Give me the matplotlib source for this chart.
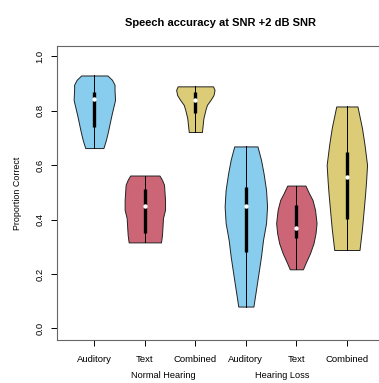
import matplotlib
matplotlib.use("Agg")

import matplotlib.pyplot as plt

plt.rcParams["font.family"] = ["Liberation Sans", "DejaVu Sans"]

# tick labels and groups
conditions = ["Auditory", "Text", "Combined", "Auditory", "Text", "Combined"]
groups = ["Normal Hearing", "Hearing Loss"]
colors = ["#88CCEE", "#CC6677", "#DDCC77", "#88CCEE", "#CC6677", "#DDCC77"]

# violin outlines: y levels and half widths
nh_aud_y = [0.663, 0.693, 0.724, 0.785, 0.840, 0.877, 0.896, 0.914, 0.930]
nh_aud_w = [0.18, 0.23, 0.27, 0.34, 0.41, 0.40, 0.40, 0.35, 0.26]
nh_text_y = [0.316, 0.344, 0.406, 0.436, 0.472, 0.528, 0.546, 0.562]
nh_text_w = [0.32, 0.34, 0.36, 0.40, 0.40, 0.38, 0.34, 0.29]
nh_comb_y = [0.722, 0.773, 0.804, 0.822, 0.840, 0.858, 0.877, 0.890]
nh_comb_w = [0.13, 0.16, 0.20, 0.23, 0.30, 0.36, 0.38, 0.35]
hl_aud_y = [0.080, 0.141, 0.202, 0.264, 0.325, 0.387, 0.448, 0.509, 0.571, 0.620, 0.669]
hl_aud_w = [0.15, 0.20, 0.25, 0.30, 0.34, 0.40, 0.42, 0.40, 0.35, 0.30, 0.23]
hl_text_y = [0.217, 0.239, 0.276, 0.313, 0.350, 0.387, 0.436, 0.472, 0.497, 0.525]
hl_text_w = [0.13, 0.18, 0.27, 0.34, 0.38, 0.40, 0.37, 0.32, 0.25, 0.18]
hl_comb_y = [0.288, 0.368, 0.429, 0.491, 0.540, 0.601, 0.675, 0.736, 0.816]
hl_comb_w = [0.25, 0.30, 0.33, 0.36, 0.38, 0.40, 0.35, 0.30, 0.21]

# box summaries
q1 = [0.742, 0.350, 0.792, 0.282, 0.331, 0.402]
q3 = [0.871, 0.513, 0.871, 0.521, 0.454, 0.648]
med = [0.843, 0.451, 0.840, 0.450, 0.368, 0.558]

profiles = [
    (nh_aud_y, nh_aud_w), (nh_text_y, nh_text_w), (nh_comb_y, nh_comb_w),
    (hl_aud_y, hl_aud_w), (hl_text_y, hl_text_w), (hl_comb_y, hl_comb_w),
]

fig = plt.figure(figsize=(3.79, 3.83), dpi=100)
ax = fig.add_axes([0.1504, 0.1123, 0.863, 0.768])

for i, (ys, ws) in enumerate(profiles):
    pos = i + 1
    left = [pos - w for w in ws]
    right = [pos + w for w in ws]
    ax.fill_betweenx(ys, left, right, facecolor=colors[i], edgecolor="#222222", linewidth=0.7, zorder=2)
    ax.plot([pos, pos], [ys[0], ys[-1]], color="black", linewidth=0.7, zorder=3)
    ax.plot([pos, pos], [q1[i], q3[i]], color="black", linewidth=2.4, solid_capstyle="butt", zorder=4)
    ax.plot(pos, med[i], "o", color="white", markersize=3.2, markeredgewidth=0, zorder=5)

ax.set_xlim(0.261, 6.737)
ax.set_ylim(-0.043, 1.039)

ax.set_xticks(range(1, 7))
ax.set_xticklabels(conditions, fontsize=6.8)
ax.set_yticks([0.0, 0.2, 0.4, 0.6, 0.8, 1.0])
ax.set_yticklabels(["0.0", "0.2", "0.4", "0.6", "0.8", "1.0"], fontsize=6.8, rotation=90, va="center")
ax.tick_params(direction="out", length=4, width=0.7, pad=7)
ax.tick_params(axis="y", pad=5)

for side in ["left", "bottom", "top", "right"]:
    ax.spines[side].set_color("#666666")
    ax.spines[side].set_linewidth(0.8)

ax.set_ylabel("Proportion Correct", fontsize=6.4, labelpad=10)
ax.set_title("Speech accuracy at SNR +2 dB SNR", fontsize=8, fontweight="bold", pad=14)

ax.text(2.36, -0.172, groups[0], fontsize=6.6, ha="center", va="center")
ax.text(4.72, -0.172, groups[1], fontsize=6.6, ha="center", va="center")

fig.savefig("out.png", dpi=100)
